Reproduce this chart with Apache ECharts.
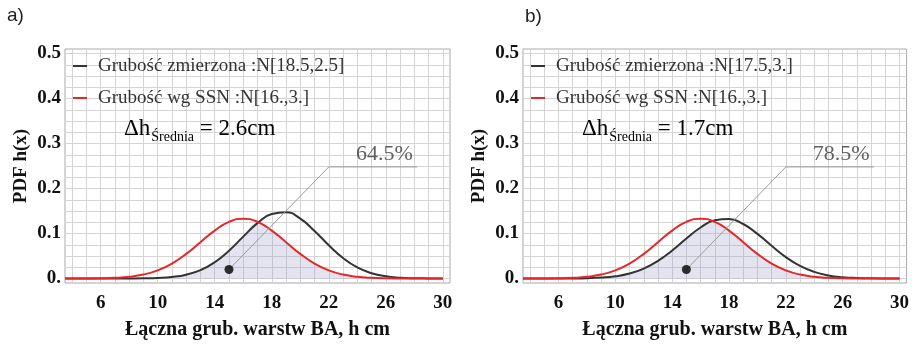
<!DOCTYPE html>
<html>
<head>
<meta charset="utf-8">
<script src="https://cdn.jsdelivr.net/npm/echarts@6/dist/echarts.min.js"></script>
<style>
  html, body { margin: 0; padding: 0; background: #fff; }
  #chart { width: 912px; height: 345px; }
</style>
</head>
<body>
<div id="chart"></div>
<script>
// grubość h [cm], punkty
const xValues = [3.5, 4, 5, 6, 7, 8, 9, 10, 11, 12, 13, 14, 15, 16, 17, 18, 19, 20, 21, 22, 23, 24, 25, 26, 27, 28, 29, 30];

// a) grubość zmierzona / wg SSN
const measuredA = [0, 0, 0, 0, 0, 0.0001, 0.0004, 0.0012, 0.0034, 0.0085, 0.0186, 0.0362, 0.0618, 0.093, 0.1231, 0.1434, 0.1472, 0.1329, 0.1056, 0.0739, 0.0455, 0.0247, 0.0118, 0.0049, 0.0018, 0.0006, 0.0002, 0];
const ssnA = [0, 0, 0.0002, 0.0005, 0.0015, 0.0038, 0.0087, 0.018, 0.0332, 0.0547, 0.0807, 0.1065, 0.1258, 0.133, 0.1258, 0.1065, 0.0807, 0.0547, 0.0332, 0.018, 0.0087, 0.0038, 0.0015, 0.0005, 0.0002, 0, 0, 0];

// b)
const measuredB = [0, 0, 0, 0.0001, 0.0002, 0.0007, 0.002, 0.0049, 0.011, 0.0219, 0.039, 0.0622, 0.0887, 0.1133, 0.1294, 0.1323, 0.1211, 0.0991, 0.0726, 0.0476, 0.0279, 0.0147, 0.0069, 0.0029, 0.0011, 0.0004, 0.0001, 0];
const ssnB = [0, 0, 0.0002, 0.0005, 0.0015, 0.0038, 0.0087, 0.018, 0.0332, 0.0547, 0.0807, 0.1065, 0.1258, 0.133, 0.1258, 0.1065, 0.0807, 0.0547, 0.0332, 0.018, 0.0087, 0.0038, 0.0015, 0.0005, 0.0002, 0, 0, 0];

const namesA = ['Grubość zmierzona :N[18.5,2.5]', 'Grubość wg SSN :N[16.,3.]'];
const namesB = ['Grubość zmierzona :N[17.5,3.]', 'Grubość wg SSN :N[16.,3.]'];
const deltaA = '2.6cm';
const deltaB = '1.7cm';
const percentA = '64.5%';
const percentB = '78.5%';

// linia odnośnika: kropka -> załamanie -> koniec półki
const calloutA = [[15, 0.02], [22, 0.248], [28.2, 0.248]];
const calloutB = [[15, 0.02], [22, 0.248], [28.2, 0.248]];
const percentPos = [25.9, 0.248];

const xTickLabels = [6, 10, 14, 18, 22, 26, 30];
const yTickLabels = [0, 0.1, 0.2, 0.3, 0.4, 0.5];

const X_MIN = 3.5, X_MAX = 30.5, Y_MIN = -0.01, Y_MAX = 0.51;

// kategorie pomocnicze tylko dla siatki (co 0.5 cm i co 0.005)
const xCats = [];
for (let v = 35; v <= 305; v += 5) xCats.push(String(v / 10));
const yCats = [];
for (let v = -10; v <= 510; v += 5) yCats.push(String(v / 1000));

const serif = "'Liberation Serif', 'Times New Roman', serif";
const gridColor = '#d4d4d4';

const chart = echarts.init(document.getElementById('chart'), null, { renderer: 'canvas' });

const grids = [
  { left: 65, top: 49, width: 385, height: 238 },
  { left: 523, top: 49, width: 385, height: 238 }
];

const xAxes = [], yAxes = [], series = [], legends = [];

const panels = [
  { measured: measuredA, ssn: ssnA, names: namesA, callout: calloutA, pct: percentA },
  { measured: measuredB, ssn: ssnB, names: namesB, callout: calloutB, pct: percentB }
];

panels.forEach((p, g) => {
  // os wartosci do danych (ukryta)
  xAxes.push({ type: 'value', gridIndex: g, position: 'top', min: X_MIN, max: X_MAX, show: false });
  yAxes.push({ type: 'value', gridIndex: g, position: 'right', min: Y_MIN, max: Y_MAX, show: false });
  // os kategorii do siatki i opisow
  xAxes.push({
    type: 'category', gridIndex: g, position: 'bottom', data: xCats, boundaryGap: false,
    axisLine: { show: false }, axisTick: { show: false },
    axisLabel: {
      interval: (i, v) => xTickLabels.includes(Number(v)),
      color: '#111', fontFamily: serif, fontWeight: 'bold', fontSize: 19, margin: 11
    },
    splitLine: {
      show: true,
      interval: (i, v) => Number.isInteger(Number(v)),
      lineStyle: { color: gridColor, width: 1 }
    },
    name: 'Łączna grub. warstw BA, h cm', nameLocation: 'middle', nameGap: 37,
    nameTextStyle: { color: '#111', fontFamily: serif, fontWeight: 'bold', fontSize: 20 }
  });
  yAxes.push({
    type: 'category', gridIndex: g, position: 'left', data: yCats, boundaryGap: false,
    axisLine: { show: false }, axisTick: { show: false },
    axisLabel: {
      interval: (i, v) => yTickLabels.some(t => Math.abs(t - Number(v)) < 1e-9),
      formatter: v => Number(v) === 0 ? '0.' : Number(v).toFixed(1),
      color: '#111', fontFamily: serif, fontWeight: 'bold', fontSize: 19, margin: 4
    },
    splitLine: {
      show: true,
      interval: (i, v) => Math.round(Number(v) * 1000) % 25 === 0,
      lineStyle: { color: gridColor, width: 1 }
    },
    name: 'PDF h(x)', nameLocation: 'middle', nameGap: 34,
    nameTextStyle: { color: '#111', fontFamily: serif, fontWeight: 'bold', fontSize: 19 }
  });

  const xi = g * 2, yi = g * 2;
  const overlap = xValues.map((x, i) => [x, Math.min(p.measured[i], p.ssn[i])]);

  series.push({
    type: 'line', xAxisIndex: xi, yAxisIndex: yi, data: overlap, smooth: true,
    symbol: 'none', silent: true, z: 1,
    lineStyle: { width: 0 },
    areaStyle: { color: 'rgba(150,155,195,0.38)', origin: 0 }
  });
  series.push({
    type: 'line', name: p.names[0], xAxisIndex: xi, yAxisIndex: yi,
    data: xValues.map((x, i) => [x, p.measured[i]]), smooth: true, symbol: 'none', z: 3,
    color: '#333', lineStyle: { color: '#333', width: 2 }
  });
  series.push({
    type: 'line', name: p.names[1], xAxisIndex: xi, yAxisIndex: yi,
    data: xValues.map((x, i) => [x, p.ssn[i]]), smooth: true, symbol: 'none', z: 4,
    color: '#e8262a', lineStyle: { color: '#e8262a', width: 2 }
  });
  series.push({
    type: 'line', xAxisIndex: xi, yAxisIndex: yi, data: p.callout, symbol: 'none', z: 5,
    silent: true, lineStyle: { color: '#9a9a9a', width: 1 }
  });
  series.push({
    type: 'scatter', xAxisIndex: xi, yAxisIndex: yi, data: [p.callout[0]], z: 6,
    symbolSize: 9, itemStyle: { color: '#000' }, silent: true
  });
  series.push({
    type: 'scatter', xAxisIndex: xi, yAxisIndex: yi, data: [percentPos], symbolSize: 0, z: 6,
    silent: true,
    label: {
      show: true, position: 'top', distance: 2, formatter: p.pct,
      color: '#3a3a3a', fontFamily: serif, fontSize: 22
    }
  });

  legends.push({
    orient: 'vertical', left: grids[g].left + 8, top: 56, padding: 0,
    data: p.names, icon: 'rect', itemWidth: 14, itemHeight: 2, itemGap: 12,
    selectedMode: false,
    textStyle: { color: '#333', fontFamily: serif, fontSize: 19, lineHeight: 20, padding: [0, 0, 0, 6] }
  });
});

function deltaText(left, value) {
  return {
    type: 'text', left: left, top: 117, z: 10,
    style: {
      text: '{m|Δh}{s|Średnia}{m| = ' + value + '}',
      fontFamily: serif, fontSize: 23,
      rich: {
        m: { fontFamily: serif, fontSize: 23, lineHeight: 26, color: '#222', verticalAlign: 'top' },
        s: { fontFamily: serif, fontSize: 14, lineHeight: 16, color: '#666', verticalAlign: 'top', padding: [13, 0, 0, 1] }
      }
    }
  };
}

chart.setOption({
  animation: false,
  backgroundColor: '#fff',
  grid: grids.map(gr => Object.assign({ show: true, borderColor: '#a9a9a9', borderWidth: 1, backgroundColor: 'transparent' }, gr)),
  xAxis: xAxes,
  yAxis: yAxes,
  legend: legends,
  series: series,
  graphic: [
    { type: 'text', left: 7, top: 6, style: { text: 'a)', fontFamily: "'Liberation Sans', Arial, sans-serif", fontSize: 19, fill: '#222' } },
    { type: 'text', left: 525, top: 7, style: { text: 'b)', fontFamily: "'Liberation Sans', Arial, sans-serif", fontSize: 19, fill: '#222' } },
    deltaText(124, deltaA),
    deltaText(582, deltaB)
  ]
});
</script>
</body>
</html>
